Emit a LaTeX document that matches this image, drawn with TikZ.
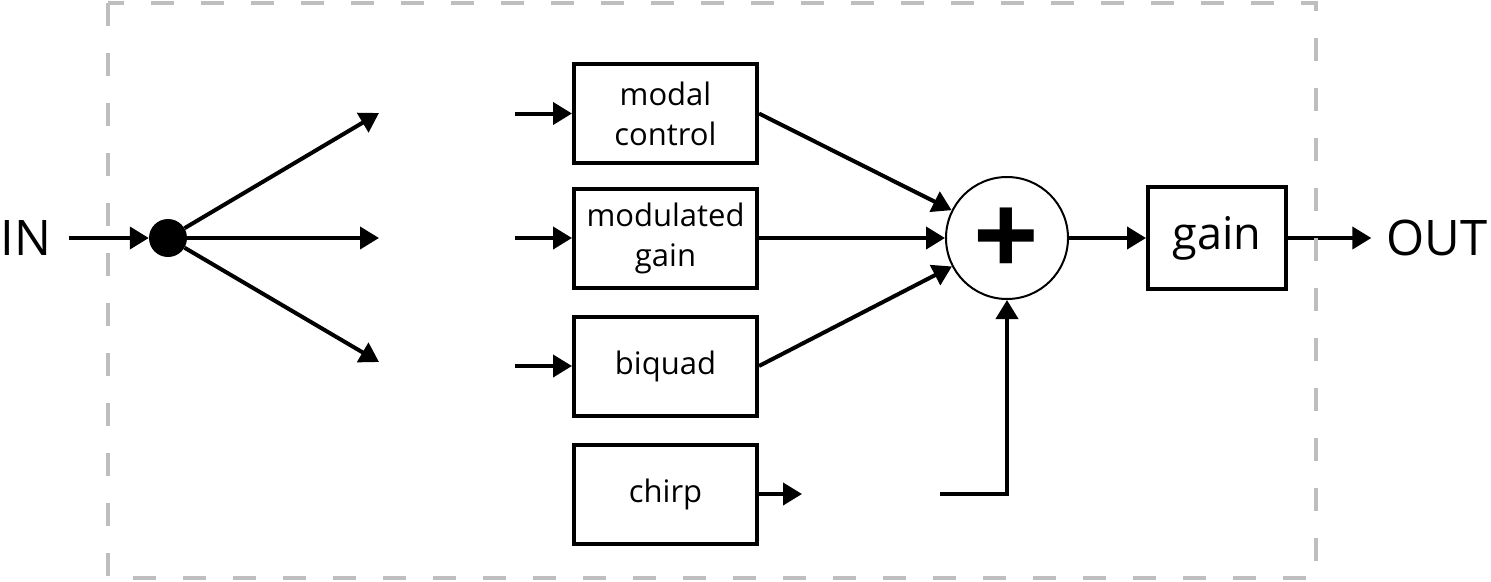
\documentclass[tikz,border=0pt]{standalone}
\usepackage{fontspec}
\setmainfont{Open Sans}
\usetikzlibrary{arrows.meta}
\definecolor{dashgray}{RGB}{190,190,190}
\tikzset{
  arr/.style={line width=4pt,-{Triangle[length=19pt,width=22pt]}},
  blk/.style={draw,line width=4pt,minimum width=183pt,minimum height=99pt,inner sep=0pt,align=center,font=\fontsize{31}{40}\selectfont},
  bigtxt/.style={inner sep=0pt,font=\fontsize{49}{55}\selectfont},
  dashbox/.style={draw=dashgray,line width=3.5pt,dash pattern=on 23pt off 27pt}
}
\begin{document}
\begin{tikzpicture}[x=1pt,y=-1pt]
\useasboundingbox (0,0) rectangle (1491,581);
% inputs
\node[bigtxt] (in) at (26,238) {IN};
\node[circle,fill,inner sep=0pt,minimum size=38pt] (dot) at (168,238) {};
\coordinate (t1) at (379,113);
\coordinate (t2) at (379,238);
\coordinate (t3) at (379,362);
\draw[arr] ([xshift=17pt]in.east) -- (dot);
\draw[arr] (dot) -- (t1);
\draw[arr] (dot) -- (t2);
\draw[arr] (dot) -- (t3);
% blocks
\node[blk] (mc) at (665.5,113.5) {modal\\control};
\node[blk] (mg) at (665.5,238) {modulated\\gain};
\node[blk] (bq) at (665.5,366) {biquad};
\node[blk] (ch) at (665.5,494) {chirp};
\coordinate (i1) at (515,113.5);
\coordinate (i2) at (515,238);
\coordinate (i3) at (515,366);
\draw[arr] (i1) -- (mc);
\draw[arr] (i2) -- (mg);
\draw[arr] (i3) -- (bq);
% sum
\node[circle,draw,line width=2pt,minimum size=122pt,inner sep=0pt] (sum) at (1007,238) {};
\node[inner sep=0pt,font=\fontsize{115}{115}\selectfont\bfseries] (plus) at (1006,242) {+};
\draw[arr] (mc.east) -- (sum);
\draw[arr] (mg.east) -- (sum);
\draw[arr] (bq.east) -- (sum);
\coordinate (c1) at (802,494);
\coordinate (c2) at (940,494);
\draw[arr] (ch) -- (c1);
\draw[arr] (c2) -| (sum);
% gain and output
\node[draw,line width=4pt,minimum width=138pt,minimum height=102pt,inner sep=0pt,font=\fontsize{45}{50}\selectfont] (g) at (1217,238) {gain};
\node[bigtxt] (out) at (1437,238) {OUT};
\draw[arr] (sum) -- (g);
\draw[arr] (g.east) -- ([xshift=-15pt]out.west);
% frame
\draw[dashbox] (108,3) rectangle (1316,578);
\end{tikzpicture}
\end{document}
